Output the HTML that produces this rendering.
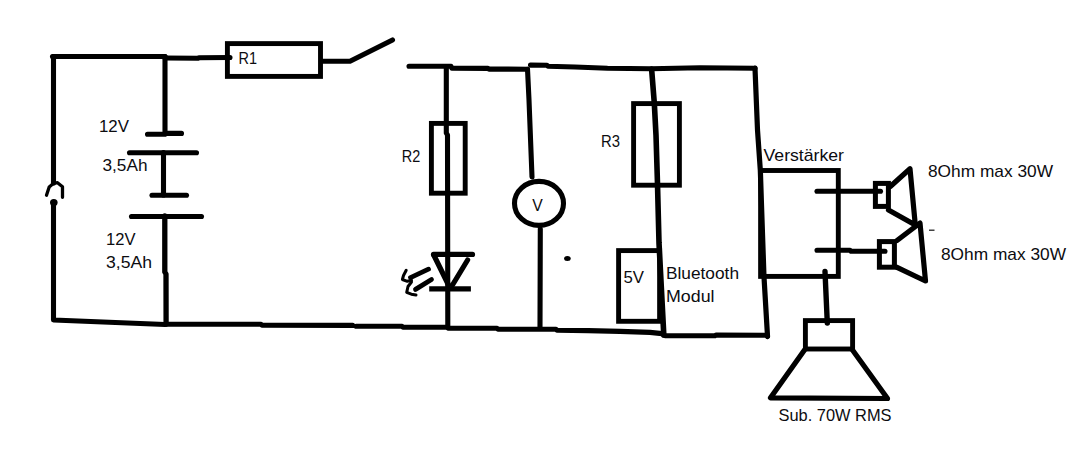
<!DOCTYPE html>
<html lang="de">
<head>
<meta charset="utf-8">
<title>Schaltplan</title>
<style>
html,body{margin:0;padding:0;background:#fff;}
body{width:1088px;height:451px;overflow:hidden;}
svg{display:block;}
text{font-family:"Liberation Sans",sans-serif;font-size:15.9px;fill:#0c0c10;}
.w{stroke:#000;stroke-width:5.1;fill:none;stroke-linecap:round;stroke-linejoin:round;}
.b{stroke:#000;stroke-width:4.9;fill:none;stroke-linecap:butt;stroke-linejoin:miter;}
.t{stroke:#000;stroke-width:3.3;fill:none;stroke-linecap:round;stroke-linejoin:round;}
</style>
</head>
<body>
<svg width="1088" height="451" viewBox="0 0 1088 451">
<rect width="1088" height="451" fill="#fff"/>

<!-- left loop -->
<g class="w">
  <path d="M52.5 56.5 L165 56.5"/>
  <path d="M165 58 L198 58.3 L199 57.7 L230 57.5"/>
  <path d="M53.5 56.5 L53.5 183"/>
  <path d="M53.5 205 L53.5 320 L165 324.5"/>
  <path d="M165 56.5 L165 133"/>
  <path d="M147.5 134.3 L165 134.3 L166 133.4 L181.5 133.4"/>
  <path d="M129.5 152.7 L196.5 152.7"/>
  <path d="M163.5 152.5 L163.5 195"/>
  <path d="M152 195.3 L186.5 195.3"/>
  <path d="M131.5 216.5 L201.5 216.5"/>
  <path d="M164.8 216 L164.8 272 L166 274 L166.1 324" style="stroke-width:5.3"/>
</g>
<!-- hook + dot -->
<g class="t">
  <path d="M53 183.8 L49.2 187 L46.5 195.3"/>
  <path d="M53.5 183.5 L57.5 182.7 L62.5 186.7 L62.5 197.3"/>
</g>
<ellipse cx="53.8" cy="202.6" rx="3.8" ry="3.5" fill="#000"/>

<!-- R1 + switch -->
<rect class="b" x="227.4" y="43.6" width="93.1" height="32.8"/>
<g class="w">
  <path d="M322 61.3 L350 61.3 L392.5 40"/>
</g>

<!-- bottom wire -->
<g class="w">
  <path d="M166 324.2 L261 324.3 L262 325.3 L352.6 325.4"/>
  <path d="M356.2 326.3 L402 326.2 L403 327.2 L447 327.3 L448 328.1 L497 328.2 L498 329.2 L556 329.3 L557 330.3 L588 330.6 L620 331.4 L650 332.4 L662 333.6 L665 335.7 L715 335.8 L716 335 L767 335.2 L767.5 336.5"/>
</g>

<!-- top right wire -->
<g class="w">
  <path d="M409 66.3 L451 66.3 L452 68.3 L488 68.4 L489 69.1 L527.5 69.2"/>
  <path d="M530.5 65.1 L547 65.2 L548 66.2 L575 67 L607.5 68.3 L651 68.8 L700 67.7 L755 68.2"/>
</g>

<!-- R2 branch -->
<g class="w">
  <path d="M446.3 66.5 L446.3 133 L447.5 135 L447.8 327"/>
</g>
<rect class="b" x="431.4" y="123.4" width="33.8" height="69.8"/>

<!-- diode -->
<g class="b" style="stroke-width:5.2">
  <path d="M429.2 288.8 L470.9 288.8"/>
</g>
<g class="w" style="stroke-width:5.2">
  <path d="M433.5 254.4 L472.5 254.4"/>
  <path d="M434 255.5 L448.5 285"/>
  <path d="M467.6 260 L452.5 285"/>
</g>
<g class="w" style="stroke-width:4.8">
  <path d="M410.5 277.6 L428.5 269.2"/>
  <path d="M415.5 289.4 L431.5 279.5"/>
</g>
<g class="t" style="stroke-width:3">
  <path d="M406.2 270.3 L403.5 275.5 L402.4 279.5 L407.3 281.3 L411.5 280.3"/>
  <path d="M411.5 282 L408 286.5 L406.7 292.3 L411.3 294.2 L416 295"/>
</g>

<!-- voltmeter -->
<g class="w">
  <path d="M527.5 69.2 L529 100 L532 177"/>
  <path d="M540.3 229 L540 328"/>
</g>
<ellipse class="w" cx="539" cy="203.4" rx="24.5" ry="22"/>
<ellipse cx="567.4" cy="258.5" rx="3.3" ry="2.5" fill="#000"/>

<!-- R3 branch -->
<g class="w" style="stroke-width:5.6">
  <path d="M651.6 69 L654.3 103 L656 135 L657.5 184 L659 243 L663.8 335"/>
</g>
<rect class="b" x="633.6" y="103.6" width="45.8" height="81.6"/>
<rect class="b" x="618.6" y="250.6" width="41" height="70.7"/>

<!-- amp -->
<g class="w">
  <path d="M755 68.2 L757.5 130 L760.3 170 L764 277 L767.5 336" style="stroke-width:5.2"/>
</g>
<rect class="b" x="760.6" y="170.5" width="77.7" height="105.9"/>
<g class="w">
  <path d="M817 191.3 L880.5 191.3"/>
  <path d="M817 250.2 L850 250.2 L851 251.3 L885 251.3"/>
  <path d="M825 271.5 L827.3 323" style="stroke-width:5.4"/>
</g>

<!-- speaker 1 -->
<rect class="b" x="875.4" y="183.4" width="13" height="23" style="stroke-width:5"/>
<g class="w" style="stroke-width:5.2">
  <path d="M890.3 186.5 L910 168.8 L915.3 225 L888.5 210"/>
</g>
<!-- speaker 2 -->
<rect class="b" x="879.4" y="241.6" width="15" height="25.6" style="stroke-width:5"/>
<g class="w" style="stroke-width:5.2">
  <path d="M897 240.5 L920 223 L925.5 281 L897 267.3"/>
</g>
<path d="M929 230.2 L934.5 230.2" stroke="#222" stroke-width="1.3" fill="none"/>

<!-- sub -->
<rect class="b" x="805.4" y="320.6" width="47.2" height="28.4"/>
<g class="w" style="stroke-width:5.2">
  <path d="M804.5 350 L770.5 397.8 L887.5 398.5 L852.5 350"/>
</g>

<!-- labels -->
<text x="238.5" y="64" textLength="18.5" lengthAdjust="spacingAndGlyphs">R1</text>
<text x="99" y="132" textLength="30" lengthAdjust="spacingAndGlyphs">12V</text>
<text x="102.5" y="170.7" textLength="45" lengthAdjust="spacingAndGlyphs">3,5Ah</text>
<text x="106" y="245" textLength="29.5" lengthAdjust="spacingAndGlyphs">12V</text>
<text x="106" y="268" textLength="46" lengthAdjust="spacingAndGlyphs">3,5Ah</text>
<text x="401.8" y="161.8" textLength="18.5" lengthAdjust="spacingAndGlyphs">R2</text>
<text x="532.3" y="210.8" textLength="10.5" lengthAdjust="spacingAndGlyphs">V</text>
<text x="601" y="146.8" textLength="19" lengthAdjust="spacingAndGlyphs">R3</text>
<text x="623.5" y="282.6" textLength="20.5" lengthAdjust="spacingAndGlyphs">5V</text>
<text x="666" y="278.8" textLength="73" lengthAdjust="spacingAndGlyphs">Bluetooth</text>
<text x="666" y="301.8" textLength="48.5" lengthAdjust="spacingAndGlyphs">Modul</text>
<text x="763.5" y="160.5" textLength="80.5" lengthAdjust="spacingAndGlyphs">Verstärker</text>
<text x="928" y="177" textLength="125" lengthAdjust="spacingAndGlyphs">8Ohm max 30W</text>
<text x="941" y="260" textLength="125" lengthAdjust="spacingAndGlyphs">8Ohm max 30W</text>
<text x="778.5" y="420.5" textLength="113" lengthAdjust="spacingAndGlyphs">Sub. 70W RMS</text>
</svg>
</body>
</html>
